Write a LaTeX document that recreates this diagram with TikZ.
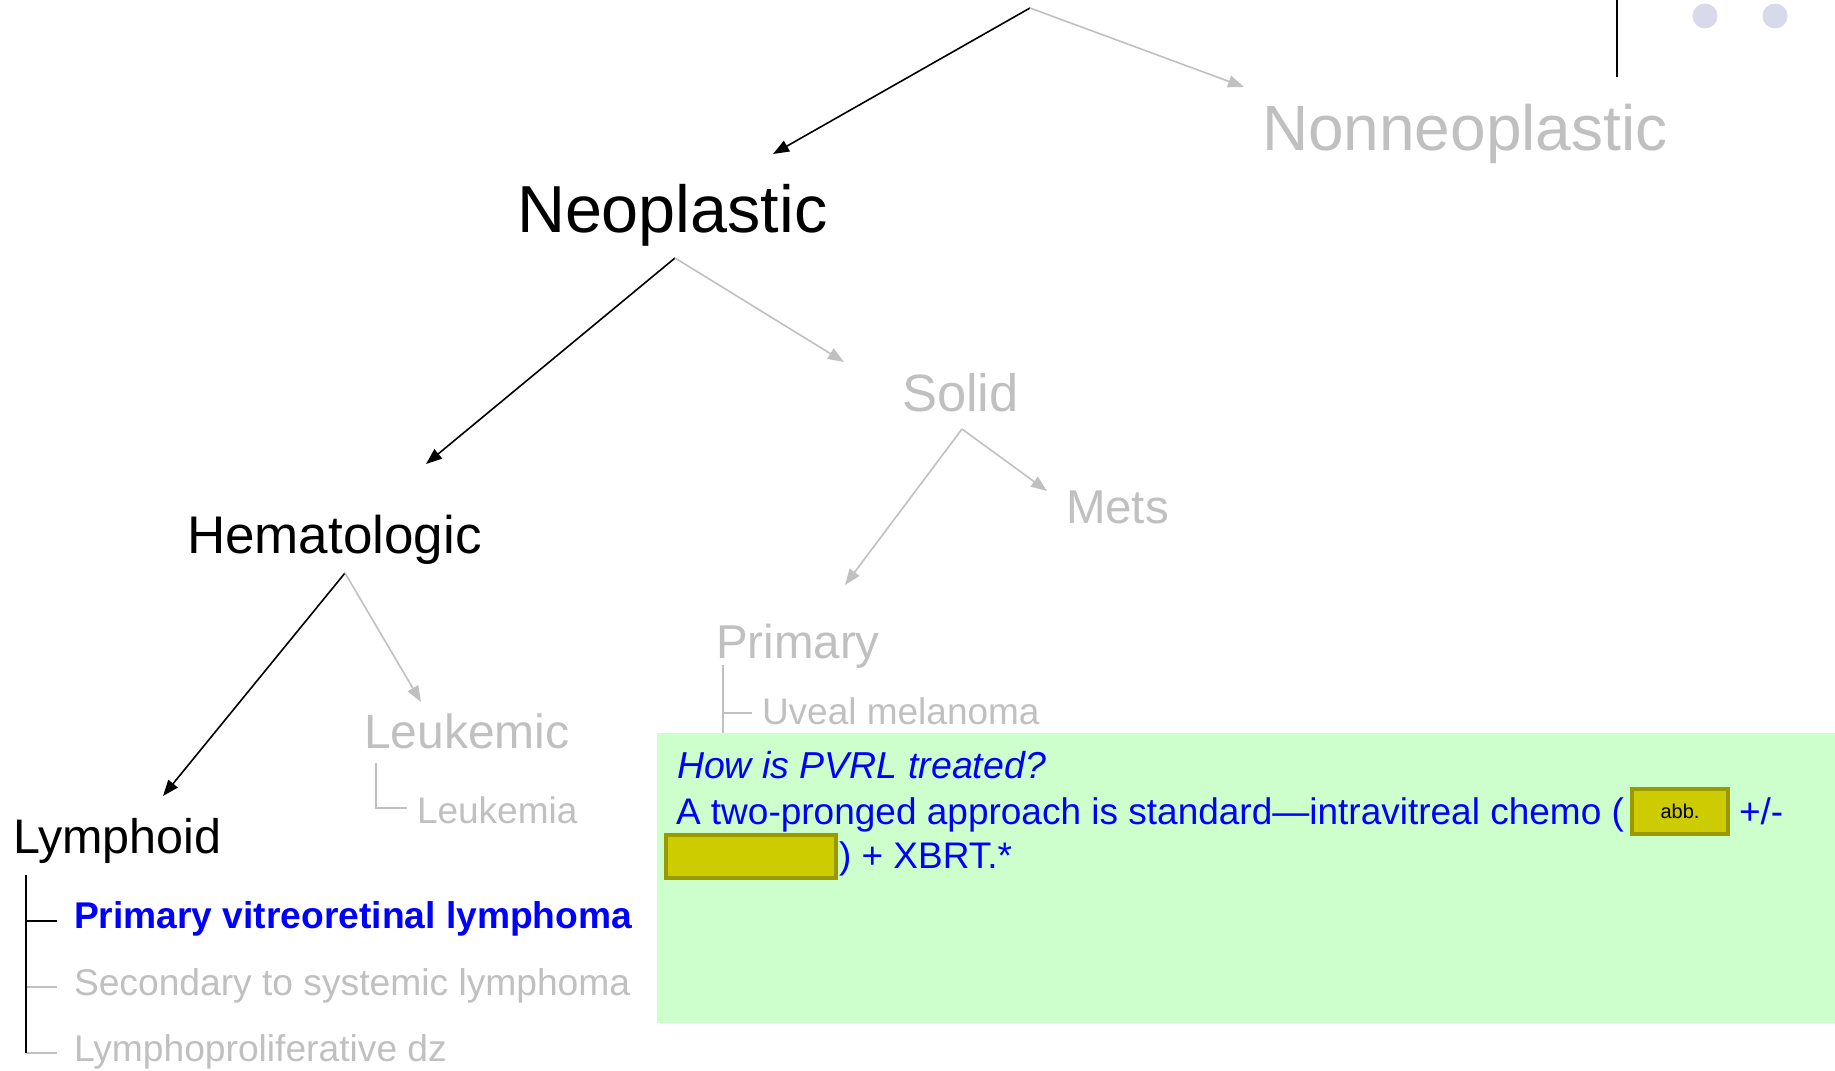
\documentclass[tikz,border=0pt]{standalone}
\usepackage{fontspec}
\setmainfont{Liberation Sans}
\usetikzlibrary{arrows.meta}

\definecolor{dimtext}{RGB}{192,192,192}
\definecolor{hiblue}{RGB}{0,0,255}
\definecolor{notegreen}{RGB}{204,255,204}
\definecolor{maskfill}{RGB}{204,204,0}
\definecolor{maskedge}{RGB}{153,153,0}
\definecolor{dotfill}{RGB}{217,217,236}

\begin{document}
\begin{tikzpicture}[x=1pt, y=-1pt,
  lbl/.style={anchor=base west, inner sep=0pt, outer sep=0pt},
  sz/.style={font=\fontsize{#1}{#1}\selectfont},
  active/.style={text=black},
  faded/.style={text=dimtext},
  linkon/.style={draw=black, line width=1.6pt, -{Triangle[length=16pt,width=12pt]}},
  linkoff/.style={draw=dimtext, line width=1.6pt, -{Triangle[length=16pt,width=12pt]}},
  treeon/.style={draw=black, line width=2pt},
  treeoff/.style={draw=dimtext, line width=1.5pt},
  maskbox/.style={draw=maskedge, fill=maskfill, line width=3.5pt, inner sep=0pt,
    font=\fontsize{20}{20}\selectfont, text=black}
]
\useasboundingbox (0,0) rectangle (1835,1070);

% corner decoration
\draw[line width=2pt] (1617,0) -- (1617,77);
\fill[dotfill] (1705,16) circle (12.5);
\fill[dotfill] (1775,16) circle (12.5);

% category labels
\node[lbl, sz=64, faded] (nonneo) at (1262,150) {Nonneoplastic};
\node[lbl, sz=66.5, active] (neo) at (517,232) {Neoplastic};
\node[lbl, sz=52.5, faded] (solid) at (902,411) {Solid};
\node[lbl, sz=47.5, faded] (mets) at (1066,523) {Mets};
\node[lbl, sz=53, active] (hema) at (187,553) {Hematologic};
\node[lbl, sz=47.5, faded] (prim) at (716,658) {Primary};
\node[lbl, sz=48, faded] (leukc) at (364,748) {Leukemic};
\node[lbl, sz=48.5, active] (lymph) at (13,853) {Lymphoid};

% leaf labels
\node[lbl, sz=37, faded] (uveal) at (762,724) {Uveal melanoma};
\node[lbl, sz=37, faded] (leuka) at (417,823) {Leukemia};
\node[lbl, text=hiblue, font=\fontsize{37.2}{37}\selectfont\bfseries] (pvrl) at (74,928) {Primary vitreoretinal lymphoma};
\node[lbl, sz=37.2, faded] (second) at (74,995) {Secondary to systemic lymphoma};
\node[lbl, sz=37.2, faded] (lpd) at (74,1061) {Lymphoproliferative dz};

% branch points and arrow ends
\coordinate (root) at (1030,8);
\coordinate (neo-in) at (773,154);
\coordinate (non-in) at (1244,87);
\coordinate (neo-fork) at (675,258);
\coordinate (hema-in) at (426,464);
\coordinate (solid-in) at (844,362);
\coordinate (solid-fork) at (962,429);
\coordinate (prim-in) at (845,585);
\coordinate (mets-in) at (1047,491);
\coordinate (hema-fork) at (345,573);
\coordinate (lymph-in) at (163,796);
\coordinate (leukc-in) at (421,702);

\draw[linkon] (root) -- (neo-in);
\draw[linkoff] (root) -- (non-in);
\draw[linkon] (neo-fork) -- (hema-in);
\draw[linkoff] (neo-fork) -- (solid-in);
\draw[linkoff] (solid-fork) -- (prim-in);
\draw[linkoff] (solid-fork) -- (mets-in);
\draw[linkon] (hema-fork) -- (lymph-in);
\draw[linkoff] (hema-fork) -- (leukc-in);

% list brackets
\coordinate (leuk-bar) at (376,763);
\coordinate (leuk-tick) at (407,808);
\draw[treeoff] (leuk-bar) |- (leuk-tick);

\coordinate (prim-bar) at (723,665);
\coordinate (prim-bar-end) at (723,734);
\coordinate (prim-tick) at (752,713);
\draw[treeoff] (prim-bar) -- (prim-bar-end);
\draw[treeoff] (prim-bar |- prim-tick) -- (prim-tick);

\coordinate (lym-bar) at (26,875);
\coordinate (lym-bar-end) at (26,1053);
\coordinate (lym-t1) at (57,921);
\coordinate (lym-t2) at (57,987);
\coordinate (lym-t3) at (57,1053);
\draw[treeoff] (lym-bar |- lym-t2) -- (lym-t2);
\draw[treeoff] (lym-bar |- lym-t3) -- (lym-t3);
\draw[treeon] (lym-bar |- lym-t1) -- (lym-t1);
\draw[treeon] (lym-bar) -- (lym-bar-end);

% question panel
\fill[notegreen] (657,733) rectangle (1835,1023);
\node[lbl, text=hiblue, font=\fontsize{37.5}{37}\selectfont\itshape] (q) at (677,778) {How is PVRL treated?};
\node[lbl, sz=37, text=hiblue] (a1) at (676,824) {A two-pronged approach is standard---intravitreal chemo (};
\node[maskbox, minimum width=96pt, minimum height=45pt] (m1) at (1680,811.5) {abb.};
\node[lbl, sz=37, text=hiblue] (a2) at (1739,824) {+/-};
\node[maskbox, minimum width=170pt, minimum height=43pt] (m2) at (751,856.5) {};
\node[lbl, sz=37, text=hiblue] (a3) at (839,868) {) + XBRT.*};
\end{tikzpicture}
\end{document}
